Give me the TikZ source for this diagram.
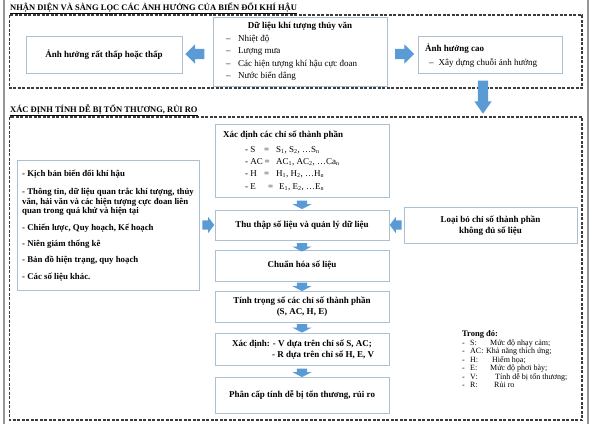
\documentclass[tikz,border=0pt]{standalone}
\usepackage{fontspec}
\setmainfont{Liberation Serif}
\usetikzlibrary{shapes.arrows,positioning}
\definecolor{boxblue}{RGB}{172,192,212}
\definecolor{arrowblue}{RGB}{91,155,213}
\definecolor{dashgray}{RGB}{60,60,60}
\definecolor{framegray}{RGB}{150,150,150}

\begin{document}
\begin{tikzpicture}[x=1pt, y=-1pt,
    box/.style={draw=boxblue, line width=0.8pt, fill=white, inner sep=0pt},
    txt/.style={inner sep=0pt, font=\fontsize{9}{10}\selectfont},
    btxt/.style={inner sep=0pt, font=\fontsize{9}{11}\selectfont\bfseries},
    stxt/.style={inner sep=0pt, font=\fontsize{8.8}{10}\selectfont\bfseries},
    heading/.style={inner sep=0pt, font=\fontsize{8.5}{10}\selectfont\bfseries},
    legend/.style={inner sep=0pt, font=\fontsize{8}{8.5}\selectfont},
    zone/.style={draw=dashgray, line width=1.3pt, dash pattern=on 3pt off 1.5pt},
    blockarr/.style={single arrow, fill=arrowblue, draw=none, inner xsep=0pt},
    bigside/.style={blockarr, inner ysep=5pt, single arrow head extend=4.5pt,
                    minimum height=19pt, single arrow tip angle=90},
    smallside/.style={blockarr, inner ysep=4.5pt, single arrow head extend=3.5pt,
                      minimum height=12pt, single arrow tip angle=106},
    bigdown/.style={blockarr, inner ysep=5pt, single arrow head extend=3.5pt,
                    minimum height=33pt, single arrow tip angle=70, rotate=-90},
    smalldown/.style={blockarr, inner ysep=5pt, single arrow head extend=4.5pt,
                      minimum height=8.5pt, single arrow tip angle=125, rotate=-90}
]
\useasboundingbox (0,0) rectangle (592,424);

% Frame
\draw[framegray, line width=1.2pt] (4,0) -- (4,424);
\draw[framegray, line width=1.2pt] (588,0) -- (588,424);

% Section 1
\node[heading, anchor=base west] (title1) at (10,10.5)
    {\underline{NHẬN DIỆN VÀ SÀNG LỌC CÁC ẢNH HƯỞNG CỦA BIẾN ĐỔI KHÍ HẬU}};
\draw[zone] (9.5,15) rectangle (582,88);

\node[box, btxt, minimum width=156, minimum height=37] (low) at (104,54.5)
    {Ảnh hưởng rất thấp hoặc thấp};
\node[bigside, shape border rotate=180] (larr1) at (197.5,54) {};

\node[box, minimum width=174, minimum height=69] (data) at (300,51.5) {};
\node[btxt, anchor=base] (data0) at (300,28) {Dữ liệu khí tượng thủy văn};
\foreach \i/\t/\y in {1/Nhiệt độ/41, 2/Lượng mưa/53.5,
                      3/Các hiện tượng khí hậu cực đoan/66, 4/Nước biển dâng/78.5} {
  \node[txt, anchor=base west] (dash\i) at (226,\y) {–};
  \node[txt, anchor=base west] (data\i) at (238,\y) {\t};
}

\node[bigside] (rarr1) at (402,54) {};

\node[box, minimum width=144, minimum height=37] (high) at (490,54.5) {};
\node[btxt, anchor=base west] (high0) at (425,51.5) {Ảnh hưởng cao};
\node[txt, anchor=base west] (high1) at (429,65) {–\hspace{5pt}Xây dựng chuỗi ảnh hưởng};

\node[bigdown] (darr1) at (483,93.5) {};

% Section 2
\node[heading, anchor=base west] (title2) at (10,112.5)
    {\underline{XÁC ĐỊNH TÍNH DỄ BỊ TỔN THƯƠNG, RỦI RO}};
\draw[zone] (9.5,117) rectangle (582,420);

% Index box
\node[box, minimum width=174, minimum height=73] (index) at (302,160.5) {};
\node[btxt, anchor=base west] (index0) at (223,137) {Xác định các chỉ số thành phần};
\node[txt, anchor=base west] (idxS) at (245,152.5) {- S};
\node[txt, anchor=base west] (eqS) at (264,152.5) {=};
\node[txt, anchor=base west] (valS) at (276,152.5)
    {S\textsubscript{1}, S\textsubscript{2}, …S\textsubscript{n}};
\node[txt, anchor=base west] (idxAC) at (245,164.5) {- AC};
\node[txt, anchor=base west] (eqAC) at (264.5,164.5) {=};
\node[txt, anchor=base west] (valAC) at (276,164.5)
    {AC\textsubscript{1}, AC\textsubscript{2}, …Ca\textsubscript{n}};
\node[txt, anchor=base west] (idxH) at (245,176.5) {- H};
\node[txt, anchor=base west] (eqH) at (264,176.5) {=};
\node[txt, anchor=base west] (valH) at (276,176.5)
    {H\textsubscript{1}, H\textsubscript{2}, …H\textsubscript{n}};
\node[txt, anchor=base west] (idxE) at (245,189) {- E};
\node[txt, anchor=base west] (eqE) at (268,189) {=};
\node[txt, anchor=base west] (valE) at (279,189)
    {E\textsubscript{1}, E\textsubscript{2}, …E\textsubscript{n}};

% Main chain
\node[box, btxt, minimum width=174, minimum height=30] (collect) at (302,225)
    {Thu thập số liệu và quản lý dữ liệu};
\node[box, btxt, minimum width=174, minimum height=31] (norm) at (302,265.5)
    {Chuẩn hóa số liệu};
\node[box, btxt, align=center, minimum width=174, minimum height=31] (weight) at (302,306.5)
    {Tính trọng số các chỉ số thành phần\\(S, AC, H, E)};
\node[box, minimum width=174, minimum height=32] (det) at (302,349) {};
\node[btxt, anchor=base west] (det1) at (232,346.5) {Xác định: - V dựa trên chỉ số S, AC;};
\node[btxt, anchor=base west] (det2) at (272,357) {- R dựa trên chỉ số H, E, V};
\node[box, btxt, minimum width=174, minimum height=36] (rank) at (302,395)
    {Phân cấp tính dễ bị tổn thương, rủi ro};

\foreach \n/\y in {darr2/203.5, darr3/246, darr4/285.5, darr5/327, darr6/371.5} {
  \node[smalldown] (\n) at (302,\y) {};
}

% Sources
\node[box, minimum width=182, minimum height=130] (src) at (108,225) {};
\foreach \i/\t/\y in {1/- Kịch bản biến đổi khí hậu/176,
    2/- Thông tin{,} dữ liệu quan trắc khí tượng{,} thủy/194,
    3/văn{,} hải văn và các hiện tượng cực đoan liên/204,
    4/quan trong quá khứ và hiện tại/213.5,
    5/- Chiến lược{,} Quy hoạch{,} Kế hoạch/230.5,
    6/- Niên giám thống kê/246.5,
    7/- Bản đồ hiện trạng{,} quy hoạch/262.5,
    8/- Các số liệu khác./279.5} {
  \node[stxt, anchor=base west] (src\i) at (22,\y) {\t};
}
\node[smallside] (rarr2) at (206.5,225) {};

% Dropped indices
\node[box, btxt, align=center, minimum width=173, minimum height=36] (drop) at (490.5,225.5)
    {Loại bỏ chỉ số thành phần\\không đủ số liệu};
\node[smallside, shape border rotate=180] (larr2) at (397.5,225) {};

% Legend
\node[legend, font=\fontsize{8.5}{8.5}\selectfont\bfseries, anchor=base west] (lg0) at (462,336)
    {Trong đó:};
\foreach \i/\k/\d/\x/\y in {1/S:/Mức độ nhạy cảm;/490/345,
    2/AC:/Khả năng thích ứng;/486/353.5, 3/H:/Hiểm họa;/492/362,
    4/E:/Mức độ phơi bày;/490/370.5, 5/V:/Tính dễ bị tổn thương;/495/379,
    6/R:/Rủi ro/494/387.5} {
  \node[legend, anchor=base west] (lgd\i) at (462,\y) {-};
  \node[legend, anchor=base west] (lgk\i) at (470,\y) {\k};
  \node[legend, anchor=base west] (lgt\i) at (\x,\y) {\d};
}

\end{tikzpicture}
\end{document}
